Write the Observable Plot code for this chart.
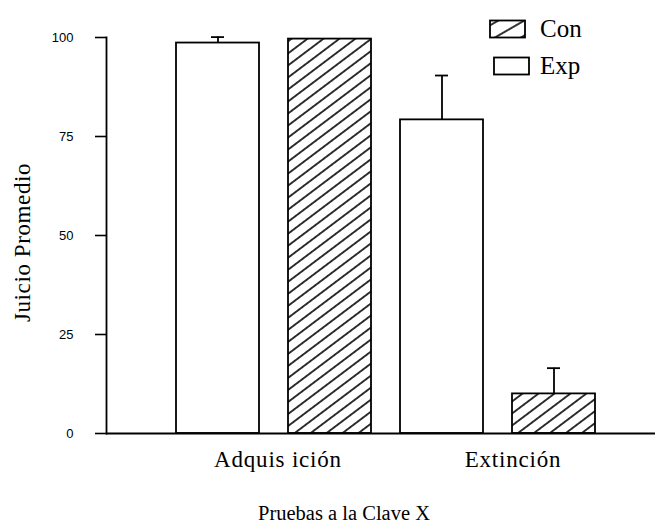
<!DOCTYPE html>
<html><head><meta charset="utf-8">
<script src="https://cdn.jsdelivr.net/npm/d3@7"></script>
<script src="https://cdn.jsdelivr.net/npm/@observablehq/plot@0.6"></script>
<style>
body{margin:0;background:#fff}
#chart{position:relative;width:655px;height:529px}
#legend{position:absolute;left:489px;top:10px;font-family:"Liberation Serif","Times New Roman",serif;font-size:25px;color:#000}
.item{display:flex;align-items:center;height:37px}
.item svg{margin-right:10px}
</style>
</head><body>
<svg width="0" height="0" style="position:absolute">
  <defs>
    <pattern id="hatch" patternUnits="userSpaceOnUse" width="10" height="9.6" patternTransform="rotate(-37)">
      <line x1="-1" y1="4.8" x2="11" y2="4.8" stroke="#000" stroke-width="1.6"/>
    </pattern>
    <pattern id="hatch2" patternUnits="userSpaceOnUse" width="10" height="13" patternTransform="rotate(-30)">
      <line x1="-1" y1="6" x2="11" y2="6" stroke="#000" stroke-width="1.6"/>
    </pattern>
  </defs>
</svg>
<div id="chart"><div id="legend"></div></div>
<script>
const phases = ["Adquis ición", "Extinción"];
const barPhase = ["Adquis ición", "Adquis ición", "Extinción", "Extinción"];
const barCond = ["Exp", "Con", "Exp", "Con"];
const barMean = [98.6, 99.6, 79.2, 10.0];
const barError = [1.5, 0, 11.2, 6.5];
const yTicks = [0, 25, 50, 75, 100];
const legendLabels = ["Con", "Exp"];
const yLabel = "Juicio Promedio";
const xLabel = "Pruebas a la Clave X";

const data = barPhase.map((p, i) => ({
  key: p + "|" + barCond[i], phase: p, cond: barCond[i], mean: barMean[i], err: barError[i]
}));
const errData = data.filter(d => d.err > 0);

const serif = "'Liberation Serif','Times New Roman',serif";
const labelShift = [60, 71];

const chart = Plot.plot({
  width: 655,
  height: 529,
  marginLeft: 106,
  marginRight: 0,
  marginTop: 37,
  marginBottom: 96,
  style: {fontFamily: "'Liberation Sans',Arial,sans-serif", fontSize: "13px", color: "#000", background: "white"},
  x: {domain: data.map(d => d.key), paddingInner: 0.26, paddingOuter: 0.574, align: 0.535, axis: null},
  y: {domain: [0, 100], ticks: yTicks, axis: null},
  marks: [
    Plot.frame({anchor: "left", stroke: "#000", strokeWidth: 1.8}),
    Plot.axisY({ticks: yTicks, tickSize: 11, tickPadding: 22, tickFormat: d => d, fontSize: 13, label: null, strokeWidth: 1.6}),
    Plot.barY(data.filter(d => d.cond === "Exp"), {x: "key", y: "mean", fill: "white", stroke: "#000", strokeWidth: 1.8}),
    Plot.barY(data.filter(d => d.cond === "Con"), {x: "key", y: "mean", fill: "url(#hatch)", stroke: "#000", strokeWidth: 1.8}),
    Plot.ruleX(errData, {x: "key", y1: "mean", y2: d => d.mean + d.err, stroke: "#000", strokeWidth: 1.8}),
    Plot.tickY(errData, {x: "key", y: d => d.mean + d.err, stroke: "#000", strokeWidth: 1.8, insetLeft: 35, insetRight: 35}),
    Plot.ruleY([0], {stroke: "#000", strokeWidth: 2}),
    ...phases.map((p, i) => Plot.text([p], {x: q => q + "|Exp", text: d => d, frameAnchor: "bottom", dy: 33, dx: labelShift[i], fontFamily: serif, fontSize: 23})),
    Plot.text([xLabel], {text: d => d, frameAnchor: "bottom", dx: -37, dy: 86, fontFamily: serif, fontSize: 20.5}),
    Plot.text([yLabel], {text: d => d, frameAnchor: "left", textAnchor: "middle", rotate: -90, dx: -84, dy: 7, fontFamily: serif, fontSize: 23})
  ]
});
document.getElementById("chart").prepend(chart);
d3.select(chart).selectAll("text")
  .filter(function() { return phases.includes(this.textContent); })
  .style("letter-spacing", "0.8px");
d3.select(chart).selectAll("text")
  .filter(function() { return this.textContent === yLabel; })
  .style("letter-spacing", "0.6px");

const legend = document.getElementById("legend");
legendLabels.forEach(l => {
  const item = document.createElement("div");
  item.className = "item";
  const sw = d3.create("svg").attr("width", 41).attr("height", 20);
  sw.append("rect").attr("x", l === "Con" ? 1 : 5).attr("y", 1.5).attr("width", 35).attr("height", 17)
    .attr("fill", l === "Con" ? "url(#hatch2)" : "white").attr("stroke", "#000").attr("stroke-width", 1.8);
  item.append(sw.node());
  const t = document.createElement("span");
  t.textContent = l;
  item.append(t);
  legend.append(item);
});
</script>
</body></html>
